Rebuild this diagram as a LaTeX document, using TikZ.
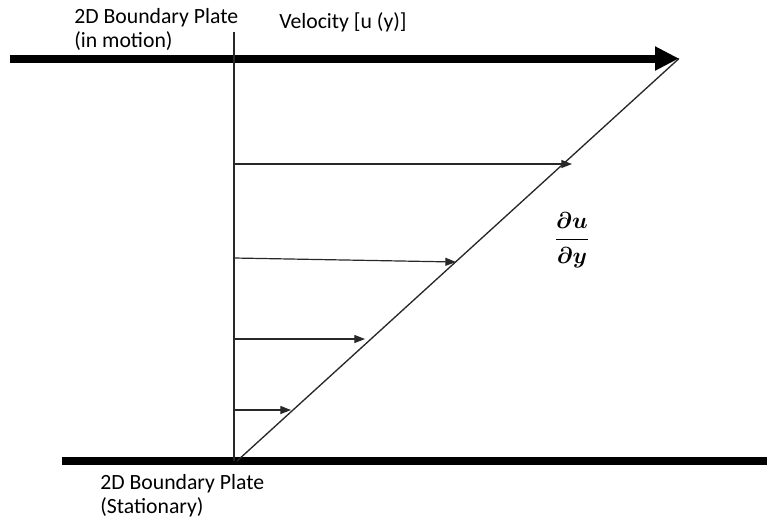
\documentclass[tikz,border=0pt]{standalone}
\usepackage{amsmath,amssymb,bm}
\usepackage{fontspec}
\setmainfont{Carlito}
\usepackage{tikz}
\usetikzlibrary{arrows.meta,calc,positioning}
\definecolor{platebk}{RGB}{0,0,0}
\definecolor{linegray}{RGB}{40,40,40}

\tikzset{
  plate/.style={line width=6pt,platebk},
  velarrow/.style={line width=0.9pt,linegray,-{Triangle[length=8pt,width=6pt]}},
  plabel/.style={inner sep=0pt,align=left,font=\fontsize{16.3}{18}\selectfont},
}

\begin{document}
\begin{tikzpicture}[x=0.75pt,y=-0.75pt]
  \useasboundingbox (0,0) rectangle (767,522);
  % plates and axis
  \coordinate (tl) at (10,58.5);
  \coordinate (tr) at (679,58.5);
  \coordinate (bl) at (62,461);
  \coordinate (br) at (767,461);
  \coordinate (vt) at (234,32);
  \coordinate (vb) at (234,461);
  \coordinate (o) at (237,461);
  \draw[plate,-{Triangle[length=18pt,width=17pt]}] (tl) -- (tr);
  \draw[plate] (bl) -- (br);
  \draw[line width=1pt,linegray] (vt) -- (vb);
  \draw[line width=1pt,linegray] (o) -- (tr);
  % velocity profile
  \foreach \name/\ya/\yb/\xe in {a/164/164/572,b/258/262/456,c/339/339/365,d/410/410/291}{
    \coordinate (s\name) at (234,\ya);
    \coordinate (e\name) at (\xe,\yb);
    \draw[velarrow] (s\name) -- (e\name);
  }
  % labels
  \node[plabel,anchor=base west] (topplate) at (74,47) {2D Boundary Plate\\(in motion)};
  \node[plabel,anchor=base west] (vel) at (279,28) {Velocity [u (y)]};
  \node[plabel,anchor=base west] (botplate) at (100,513) {2D Boundary Plate\\(Stationary)};
  \node[inner sep=0pt,font=\fontsize{19}{22}\selectfont] (dudy) at (572,240)
    {$\displaystyle\bm{\frac{\partial u}{\partial y}}$};
\end{tikzpicture}
\end{document}
